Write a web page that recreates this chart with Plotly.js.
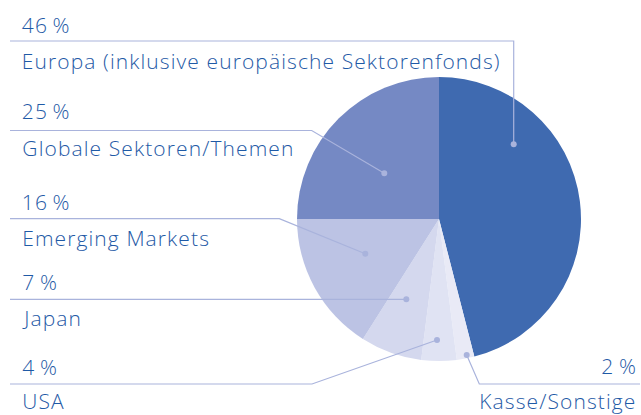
<!DOCTYPE html>
<html>
<head>
<meta charset="utf-8">
<script src="https://cdn.plot.ly/plotly-3.0.1.min.js"></script>
<style>
html,body{margin:0;padding:0;background:#fff;}
#chart{width:641px;height:415px;}
#chart .annotation-text{letter-spacing:1.1px;}
</style>
</head>
<body>
<div id="chart"></div>
<script>
// ---- data ----
const categories = ["Europa (inklusive europäische Sektorenfonds)", "Kasse/Sonstige", "USA", "Japan", "Emerging Markets", "Globale Sektoren/Themen"];
const values = [46, 2, 4, 7, 16, 25];
const colors = ["#3f6ab0", "#e9eaf6", "#e0e3f3", "#d4d8ee", "#bcc3e4", "#7589c4"];

// ---- layout constants (pixels) ----
const W = 641, H = 415;
const cx = 439, cy = 219, R = 142;
const textColor = "#1f5aa6";
const lineColor = "#a9b3dc";
const fontFam = "'Open Sans', 'Liberation Sans', sans-serif";
const fs = 21;
const LS = 1.1; // letter spacing in px (matches CSS)

// label placement: pct label y, name label y, align side, leader path (line y, elbow, dot)
const placement = [
  {pctY: 25,  nameY: 61,  side: "left",  path: [[10,41],[513.7,41],[513.7,144.3]]},
  {pctY: 366, nameY: 401, side: "right", path: [[640,384],[479.3,384],[466.7,355]]},
  {pctY: 367, nameY: 401, side: "left",  path: [[10,384],[312,384],[437,340]]},
  {pctY: 282, nameY: 318, side: "left",  path: [[10,299.3],[406.3,299.3]]},
  {pctY: 202, nameY: 238, side: "left",  path: [[10,218.7],[279.3,218.7],[365.3,253.7]]},
  {pctY: 111, nameY: 148, side: "left",  path: [[10,130.5],[311.7,130.5],[384.3,173.3]]}
];

const px = x => x / W;
const py = y => 1 - y / H;

const annotations = [];
const shapes = [];
function addText(str, x, y, left) {
  const shift = (str.length * LS) / 2;
  annotations.push({
    x: px(x), y: py(y), xref: "paper", yref: "paper",
    xanchor: left ? "left" : "right", yanchor: "middle",
    xshift: left ? shift : -shift,
    text: str, showarrow: false,
    font: {family: fontFam, size: fs, color: textColor, weight: 300}
  });
}
categories.forEach((cat, i) => {
  const p = placement[i];
  const left = p.side === "left";
  const ax = left ? 20 : 639;
  addText(values[i] + "\u2009%", ax, p.pctY, left);
  addText(cat, ax, p.nameY, left);
  const d = p.path.map((pt, k) => (k === 0 ? "M" : "L") + px(pt[0]) + "," + py(pt[1])).join(" ");
  shapes.push({type: "path", xref: "paper", yref: "paper", path: d, line: {color: lineColor, width: 1.2}});
  const last = p.path[p.path.length - 1];
  const r = 3;
  shapes.push({type: "circle", xref: "paper", yref: "paper",
    x0: px(last[0] - r), x1: px(last[0] + r), y0: py(last[1] + r), y1: py(last[1] - r),
    fillcolor: lineColor, line: {width: 0}});
});

const trace = {
  type: "pie",
  labels: categories,
  values: values,
  sort: false,
  direction: "clockwise",
  rotation: 0,
  marker: {colors: colors, line: {width: 0}},
  textinfo: "none",
  hoverinfo: "none",
  showlegend: false,
  domain: {x: [(cx - R) / W, (cx + R) / W], y: [1 - (cy + R) / H, 1 - (cy - R) / H]}
};

const layout = {
  width: W, height: H,
  margin: {l: 0, r: 0, t: 0, b: 0},
  paper_bgcolor: "#ffffff",
  showlegend: false,
  annotations: annotations,
  shapes: shapes
};

Plotly.newPlot("chart", [trace], layout, {staticPlot: true, displayModeBar: false});
</script>
</body>
</html>
